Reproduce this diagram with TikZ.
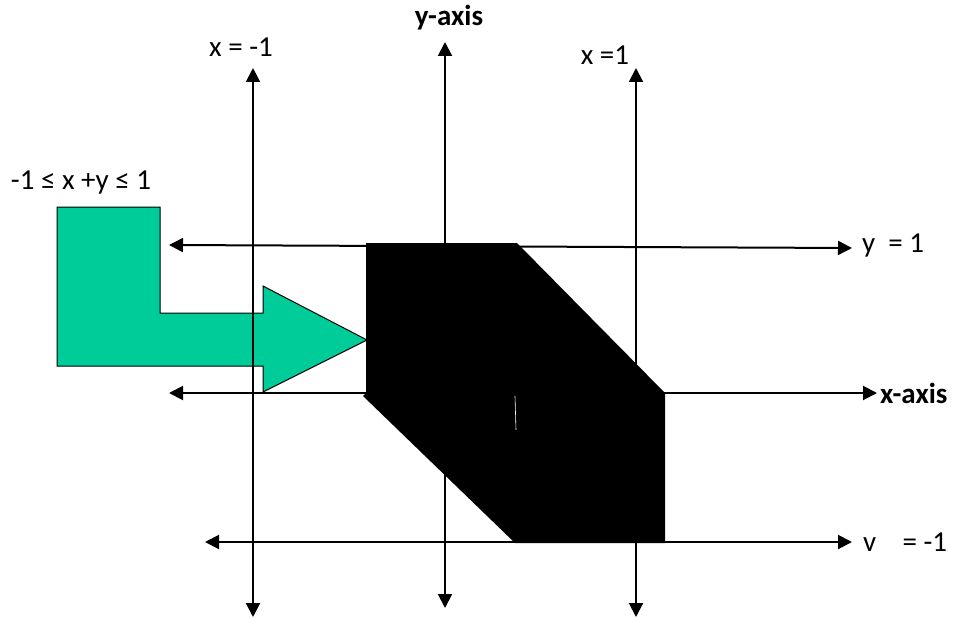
\documentclass[tikz,border=0pt]{standalone}
\usepackage{fontspec}
\setmainfont{Carlito}
\usetikzlibrary{arrows.meta,positioning,calc}
\definecolor{regiongreen}{RGB}{0,204,153}

\begin{document}
\begin{tikzpicture}[
  x=1pt, y=-1pt,
  font=\fontsize{29}{34}\selectfont,
  axisline/.style={line width=2pt, {Triangle[length=14pt,width=14pt]}-{Triangle[length=14pt,width=14pt]}},
  lab/.style={inner sep=0pt},
]
  \useasboundingbox (0,0) rectangle (956,618);

  % green L-shaped arrow pointing at the region
  \draw[fill=regiongreen, line width=1pt, line join=miter]
    (57,207) -- (160,207) -- (160,313) -- (263,313) -- (263,286)
    -- (367,340) -- (263,392) -- (263,366) -- (57,366) -- cycle;

  % vertical lines x=-1, y-axis, x=1
  \foreach \n/\x/\t/\b in {xm/253/68/617, ya/445/42/608, xp/636/68/617} {
    \coordinate (\n top) at (\x,\t);
    \coordinate (\n bot) at (\x,\b);
    \draw[axisline] (\n top) -- (\n bot);
  }
  % horizontal lines y=1, x-axis, y=-1
  \foreach \n/\l/\r/\y/\yy in {yp/169/852/245/248, xa/169/877/393/393, ym/205/852/542/542} {
    \coordinate (\n left) at (\l,\y);
    \coordinate (\n right) at (\r,\yy);
    \draw[axisline] (\n left) -- (\n right);
  }

  % the region -1 <= x+y <= 1 inside the square
  \fill[black] (366,243) -- (517,243) -- (665,393) -- (665,543)
    -- (515,543) -- (363,396) -- (366,393) -- cycle;
  \draw[white, line width=0.6pt] (515,396) -- (516,430);

  % labels
  \node[lab] (lxm) at (241,47) {x = -1};
  \node[lab, font=\fontsize{29}{34}\selectfont\bfseries] (lya) at (449,18) {y-axis};
  \node[lab] (lxp) at (605,55) {x =1};
  \node[lab, anchor=west] (lyp) at (862,246) {y\ \ = 1};
  \node[lab, anchor=west, font=\fontsize{29}{34}\selectfont\bfseries] (lxa) at (880,393) {x-axis};
  \node[lab, anchor=west] (lym) at (863,542) {v\ \ \ \ = -1};
  \node[lab] (lreg) at (81,183) {-1 ≤ x +y ≤ 1};
\end{tikzpicture}
\end{document}
